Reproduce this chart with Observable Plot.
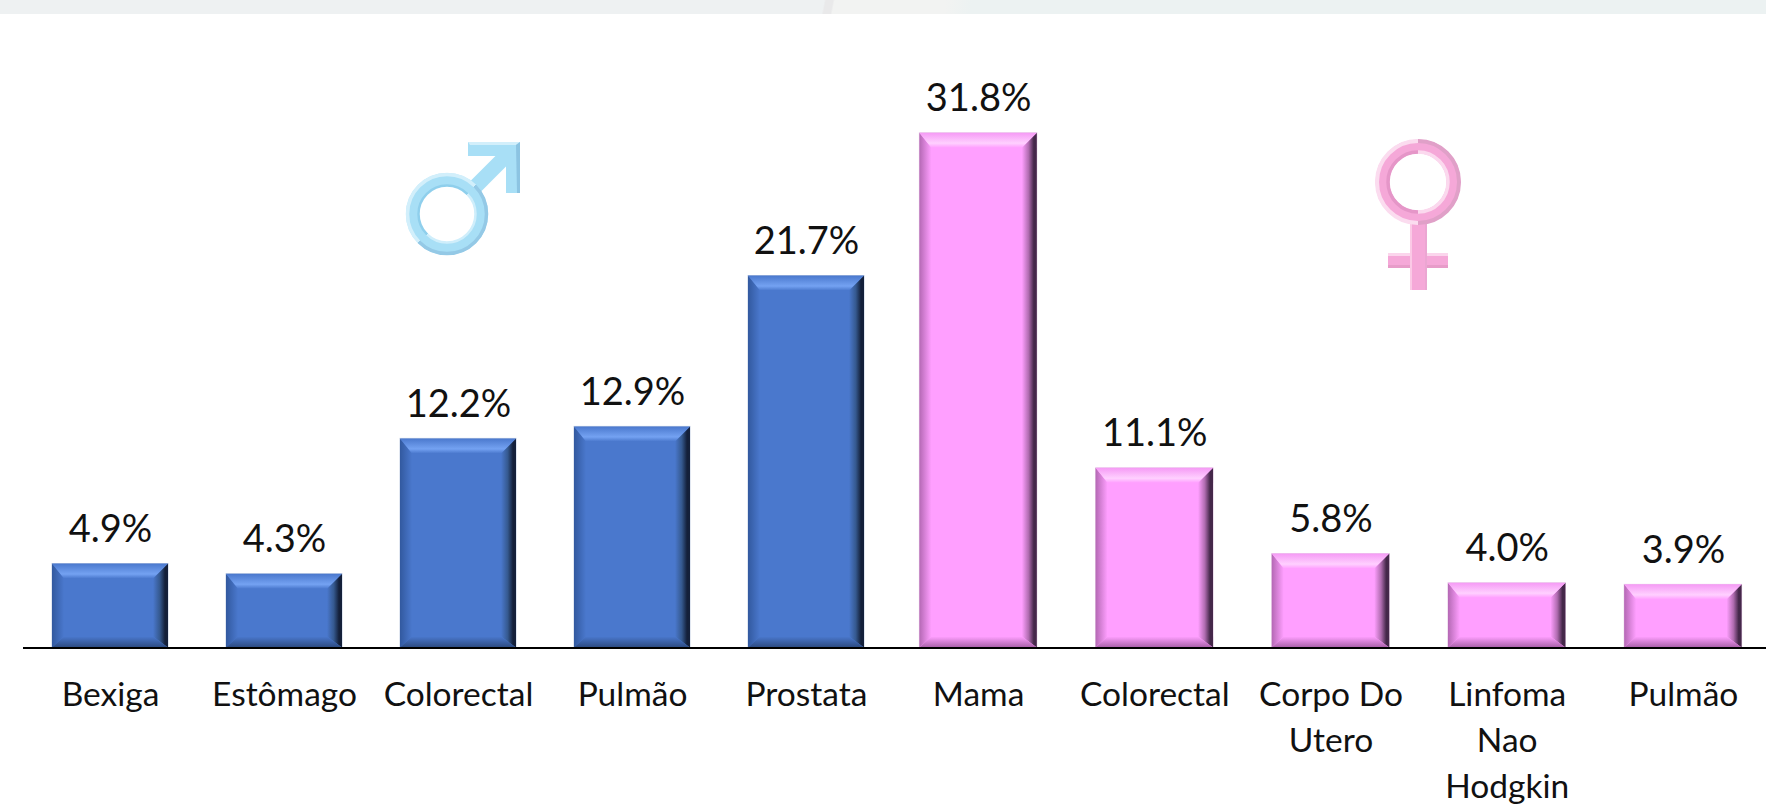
<!DOCTYPE html>
<html><head><meta charset="utf-8">
<script src="https://cdn.jsdelivr.net/npm/d3@7"></script>
<script src="https://cdn.jsdelivr.net/npm/@observablehq/plot@0.6"></script>
<style>
html,body{margin:0;padding:0;background:#fff;width:1766px;height:806px;overflow:hidden}
#band{position:absolute;left:0;top:0;width:1766px;height:14px;background:linear-gradient(101deg,#eef1f2 0,#eef1f2 46.6%,#e9e9ea 46.7%,#e9e9ea 47.1%,#f2f3f2 47.2%,#f2f3f2 53.5%,#ecf2f2 55%,#ecf2f2 100%)}
#chart{position:absolute;left:0;top:0;width:1766px;height:806px}
#chart svg{position:absolute;top:0;overflow:visible}
</style></head><body>
<div id="band"></div>
<div id="chart"></div>
<script>
const maleCategories = ["Bexiga","Estômago","Colorectal","Pulmão","Prostata"];
const maleValues = [4.9,4.3,12.2,12.9,21.7];
const femaleCategories = ["Mama","Colorectal","Corpo Do\nUtero","Linfoma\nNao\nHodgkin","Pulmão"];
const femaleValues = [31.8,11.1,5.8,4.0,3.9];
const FONT = "Lato, 'Open Sans', sans-serif";
const NS = "http://www.w3.org/2000/svg";

const maleTheme = {base:"#4a78cd",top0:"#4a78cd",top1:"#74a2f2",left0:"#32599f",right0:"#14203a",right1:"#35598f",bot0:"#2c4a80",edge:"#c4cfe3"};
const femaleTheme = {base:"#ff9fff",top0:"#f59af5",top1:"#ffd0ff",left0:"#b468b4",right0:"#45284a",right1:"#b06cb0",bot0:"#a860a8",edge:"#e8d4e8"};

function el(name, attrs, parent){
  const e = document.createElementNS(NS,name);
  for (const k in attrs) e.setAttribute(k,attrs[k]);
  if (parent) parent.appendChild(e);
  return e;
}
function gradient(defs,id,x1,y1,x2,y2,stops){
  const l = el("linearGradient",{id,x1,y1,x2,y2},defs);
  stops.forEach(([o,c])=>el("stop",{offset:o,"stop-color":c},l));
}

function bevel(theme, id){
  return (index, scales, values, dims, ctx, next) => {
    const g = next(index, scales, values, dims, ctx);
    const defs = el("defs",{},g);
    gradient(defs,id+"t",0,0,0,1,[[0,theme.top0],[0.7,theme.top1],[1,theme.base]]);
    gradient(defs,id+"l",0,0,1,0,[[0,theme.left0],[1,theme.base]]);
    gradient(defs,id+"r",1,0,0,0,[[0,theme.right0],[0.2,theme.right0],[0.55,theme.right1],[1,theme.base]]);
    gradient(defs,id+"b",0,1,0,0,[[0,theme.bot0],[1,theme.base]]);
    const T = 15, L = 12, R = 15, B = 11;
    Array.from(g.querySelectorAll("rect")).forEach(r=>{
      const x=+r.getAttribute("x"), y=+r.getAttribute("y"), w=+r.getAttribute("width"), h=+r.getAttribute("height");
      r.setAttribute("stroke",theme.edge); r.setAttribute("stroke-width",1);
      const X=x+w,Y=y+h;
      [["l",[[x,y],[x+L,y+T],[x+L,Y-B],[x,Y]]],
       ["r",[[X,y],[X-R,y+T],[X-R,Y-B],[X,Y]]],
       ["b",[[x,Y],[x+L,Y-B],[X-R,Y-B],[X,Y]]],
       ["t",[[x,y],[x+L,y+T],[X-R,y+T],[X,y]]]
      ].forEach(([n,pts])=>el("polygon",{points:pts.map(d=>d.join(",")).join(" "),fill:`url(#${id+n})`},g));
    });
    return g;
  };
}

// decorative sex symbols, page coordinates shifted by the panel's left edge
function maleIcon(left){
  return () => {
    const g = el("g",{transform:`translate(${-left},0)`});
    const defs = el("defs",{},g);
    gradient(defs,"mo",0,0,1,1,[[0,"#d2effb"],[0.5,"#d2effb"],[0.5,"#94c9e6"],[1,"#94c9e6"]]);
    gradient(defs,"mi",0,0,1,1,[[0,"#8fcfec"],[0.5,"#8fcfec"],[0.5,"#cfeefb"],[1,"#cfeefb"]]);
    const cx=447, cy=214;
    el("line",{x1:472,y1:190,x2:510,y2:152,stroke:"#a8dff6","stroke-width":15},g);
    el("polygon",{points:"468,142 520,142 520,193 506,193 506,156 468,156",fill:"#a8dff6"},g);
    el("polygon",{points:"468,142 520,142 516,145 470,145",fill:"#d2effb"},g);
    el("polygon",{points:"520,142 520,193 517,193 516,145",fill:"#8cc4e2"},g);
    el("circle",{cx,cy,r:34.5,fill:"none",stroke:"#a8dff6","stroke-width":13},g);
    el("circle",{cx,cy,r:39.5,fill:"none",stroke:"url(#mo)","stroke-width":3.5},g);
    el("circle",{cx,cy,r:28.5,fill:"none",stroke:"url(#mi)","stroke-width":2.5},g);
    return g;
  };
}
function femaleIcon(left){
  return () => {
    const g = el("g",{transform:`translate(${-left},0)`});
    const defs = el("defs",{},g);
    gradient(defs,"fo",0,0,1,0,[[0,"#fbdcef"],[0.5,"#fbdcef"],[0.5,"#e0a0c8"],[1,"#e0a0c8"]]);
    gradient(defs,"fi",0,0,1,0,[[0,"#e596c8"],[0.5,"#e596c8"],[0.5,"#fbd9ee"],[1,"#fbd9ee"]]);
    const cx=1418, cy=182;
    el("rect",{x:1388,y:253,width:60,height:15,fill:"#f5a8d8"},g);
    el("rect",{x:1388,y:253,width:60,height:3,fill:"#fbd5ec"},g);
    el("rect",{x:1388,y:265,width:60,height:3,fill:"#e79cc9"},g);
    el("rect",{x:1410,y:222,width:17,height:68,fill:"#f5a8d8"},g);
    el("rect",{x:1410,y:222,width:2,height:68,fill:"#fbc9e6"},g);
    el("rect",{x:1425,y:222,width:2,height:68,fill:"#eba6d2"},g);
    el("circle",{cx,cy,r:35.5,fill:"none",stroke:"#f5a8d8","stroke-width":14},g);
    el("circle",{cx,cy,r:41,fill:"none",stroke:"url(#fo)","stroke-width":4},g);
    el("circle",{cx,cy,r:30,fill:"none",stroke:"url(#fi)","stroke-width":3.5},g);
    return g;
  };
}

function panel({categories,values,theme,id,left,width,marginLeft,marginRight,marginTop,domainMax,icon}){
  const data = categories.map((c,i)=>({c,v:values[i]}));
  const svg = Plot.plot({
    width,height:806,marginLeft,marginRight,marginTop,marginBottom:158.5,
    style:{background:"transparent",fontFamily:FONT},
    x:{domain:categories,paddingInner:1/3,paddingOuter:1/6,round:false,label:null},
    y:{domain:[0,domainMax],axis:null},
    marks:[
      icon,
      Plot.barY(data,{x:"c",y:"v",fill:theme.base,render:bevel(theme,id)}),
      Plot.ruleY([0],{stroke:"#000",strokeWidth:2}),
      Plot.text(data,{x:"c",y:"v",text:d=>d.v.toFixed(1)+"%",dy:-22,lineAnchor:"bottom",fontSize:38,fill:"#111",fontFamily:FONT}),
      Plot.axisX({anchor:"bottom",tickSize:0,tickPadding:25,fontSize:33.5,lineHeight:1.373,fill:"#111",label:null,fontFamily:FONT,textOverflow:null})
    ]
  });
  svg.style.left = left+"px";
  document.getElementById("chart").appendChild(svg);
}

panel({categories:maleCategories,values:maleValues,theme:maleTheme,id:"m",left:0,width:892,marginLeft:23,marginRight:-1,marginTop:99,domainMax:32,icon:maleIcon(0)});
panel({categories:femaleCategories,values:femaleValues,theme:femaleTheme,id:"f",left:892,width:874,marginLeft:-2,marginRight:-5,marginTop:129.5,domainMax:32,icon:femaleIcon(892)});
</script>
</body></html>
